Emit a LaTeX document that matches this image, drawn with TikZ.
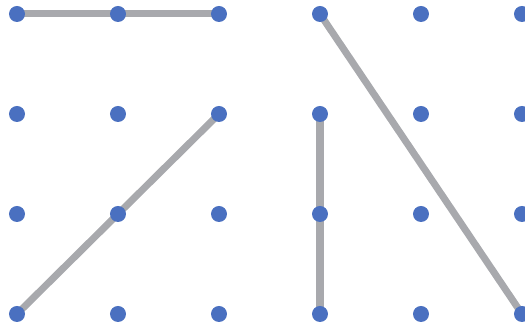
\documentclass[tikz,border=0pt]{standalone}
\usetikzlibrary{backgrounds}

\definecolor{dotblue}{RGB}{74,112,192}
\definecolor{linegray}{RGB}{168,169,173}

\begin{document}
\begin{tikzpicture}[
    dot/.style={circle, fill=dotblue, inner sep=0pt, minimum size=0.16cm},
    seg/.style={line width=0.07cm, draw=linegray}
]

\useasboundingbox (0,0) rectangle (5.25,3.27);

\foreach \c in {0,...,5} {
    \foreach \r in {0,...,3} {
        \node (d\c\r) [dot] at (0.17+1.01*\c, 3.13-\r) {};
    }
}

\begin{scope}[on background layer]
\draw [seg] (d00.center) -- (d20.center);
\draw [seg] (d03.center) -- (d21.center);
\draw [seg] (d31.center) -- (d33.center);
\draw [seg] (d30.center) -- (d53.center);
\end{scope}

\end{tikzpicture}
\end{document}
